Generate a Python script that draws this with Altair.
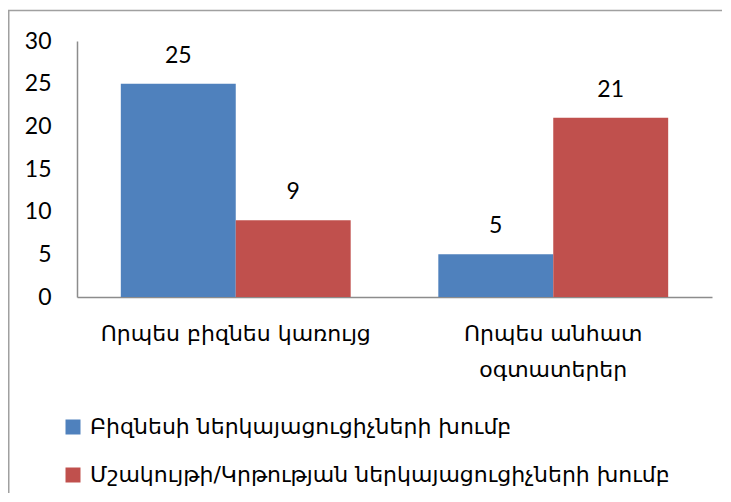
import altair as alt
import pandas as pd

categories = ["Որպես բիզնես կառույց", "Որպես անհատ|օգտատերեր"]
series = ["Բիզնեսի ներկայացուցիչների խումբ", "Մշակույթի/Կրթության ներկայացուցիչների խումբ"]
business = [25, 5]
culture = [9, 21]
colors = ["#4F81BD", "#C0504D"]
y_ticks = [0, 5, 10, 15, 20, 25, 30]

rows = []
for i, c in enumerate(categories):
    rows.append({"cat": c, "series": series[0], "value": business[i]})
    rows.append({"cat": c, "series": series[1], "value": culture[i]})
df = pd.DataFrame(rows)

ARM_FONT = "DejaVu Sans"
NUM_FONT = "Lato"

x_enc = alt.X(
    "cat:N",
    sort=categories,
    scale=alt.Scale(domain=categories, paddingInner=0.276, paddingOuter=0.138),
    axis=alt.Axis(
        title=None,
        labelAngle=0,
        labelExpr="split(datum.label, '|')",
        labelFont=ARM_FONT,
        labelFontSize=22,
        labelColor="#000000",
        labelLineHeight=36,
        labelPadding=26,
        labelBaseline="top",
        labelLimit=400,
        ticks=False,
        domainColor="#8c8c8c",
        domainWidth=1.5,
        grid=False,
    ),
)
xo_enc = alt.XOffset(
    "series:N",
    sort=series,
    scale=alt.Scale(domain=series, paddingInner=0, paddingOuter=0),
)
y_enc = alt.Y(
    "value:Q",
    scale=alt.Scale(domain=[0, 30], nice=False),
    axis=alt.Axis(
        title=None,
        values=y_ticks,
        labelFont=NUM_FONT,
        labelFontSize=23,
        labelColor="#000000",
        labelPadding=26,
        ticks=False,
        domainColor="#8c8c8c",
        domainWidth=1.5,
        grid=False,
    ),
)

bars = alt.Chart(df).mark_bar().encode(
    x=x_enc,
    xOffset=xo_enc,
    y=y_enc,
    color=alt.Color(
        "series:N",
        sort=series,
        scale=alt.Scale(domain=series, range=colors),
        legend=alt.Legend(
            title=None,
            orient="none",
            legendX=-15,
            legendY=375,
            direction="vertical",
            symbolType="square",
            symbolSize=225,
            symbolStrokeWidth=0,
            labelFont=ARM_FONT,
            labelFontSize=22,
            labelColor="#000000",
            labelOffset=6,
            rowPadding=26,
            padding=0,
            labelLimit=700,
        ),
    ),
)

labels = alt.Chart(df).mark_text(
    font=NUM_FONT, fontSize=23, baseline="bottom", dy=-16, color="#000000"
).encode(
    x=alt.X("cat:N", sort=categories),
    xOffset=alt.XOffset("series:N", sort=series),
    y="value:Q",
    text="value:Q",
)

border = alt.Chart(pd.DataFrame({"a": [0]})).mark_rect(
    fillOpacity=0, stroke="#a0a0a0", strokeWidth=1.5
).encode(
    x=alt.value(-68.25),
    x2=alt.value(720),
    y=alt.value(-30.5),
    y2=alt.value(520),
)

chart = alt.layer(border, bars, labels).properties(
    width=635,
    height=256,
    padding={"left": 69, "top": 33, "right": 10, "bottom": 196},
    autosize=alt.AutoSizeParams(type="none"),
).configure_view(stroke=None)

chart.save("out.html", embed_options={"renderer": "svg", "actions": False})
